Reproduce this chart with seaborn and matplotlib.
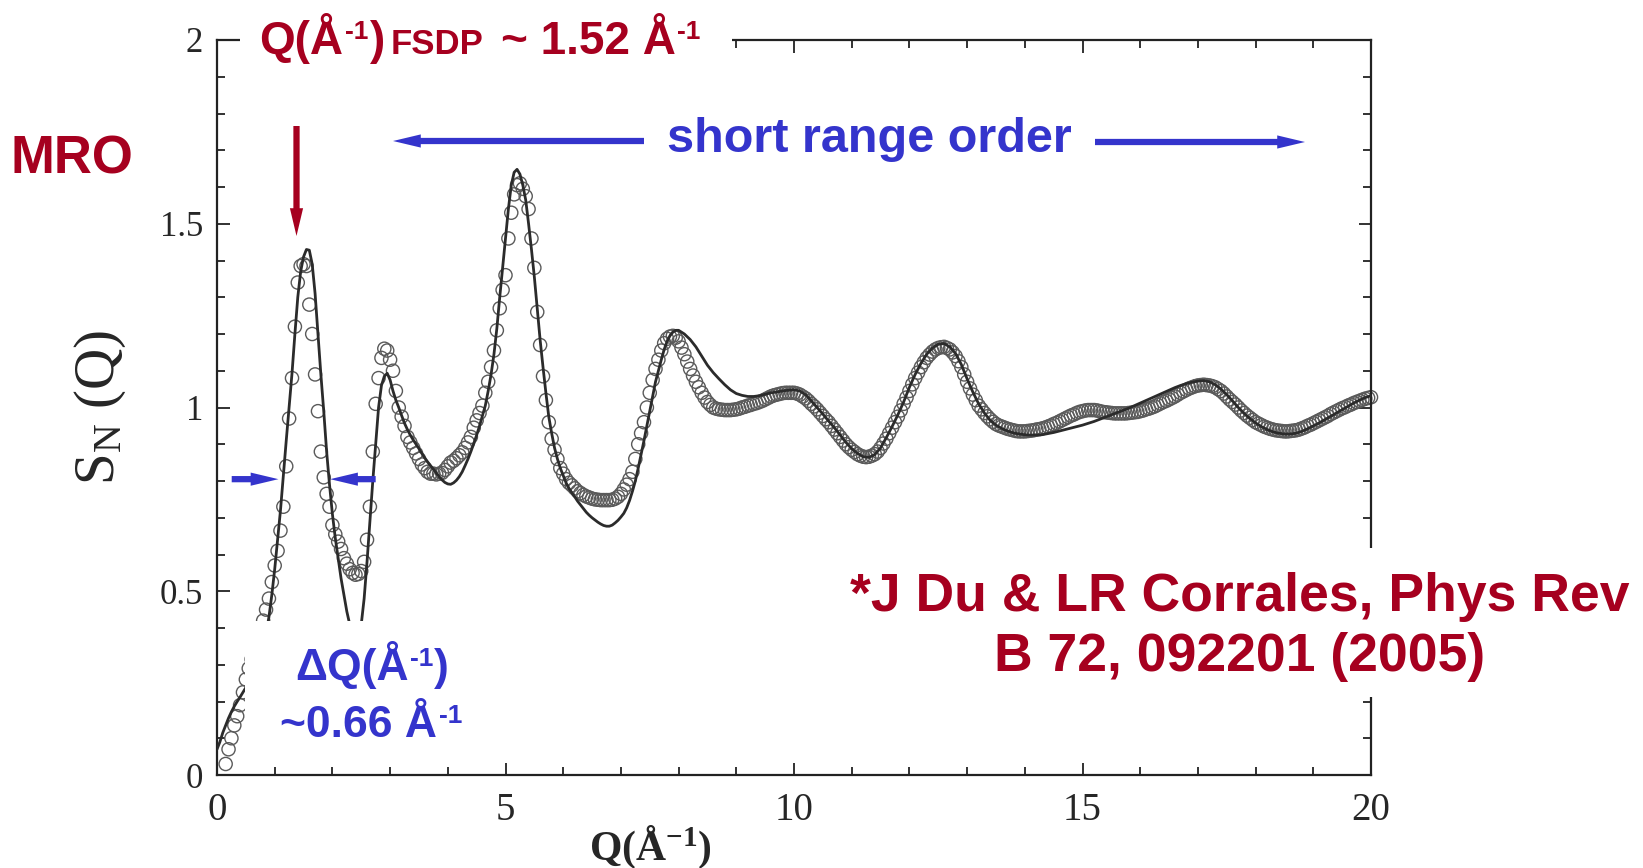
#!/usr/bin/env python3
# S_N(Q) of the glass: MD simulation (line) vs neutron data (circles)

import numpy as np
import pandas as pd
import matplotlib
matplotlib.use("Agg")
import matplotlib.pyplot as plt
import seaborn as sns
from matplotlib.patches import Rectangle
from matplotlib.ticker import MultipleLocator

# 1) Data
# simulation, fine grid 0.00 .. 8.00 (step 0.05)
sim_q_fine = np.round(np.arange(0.0, 8.0001, 0.05), 2)
sim_s_fine = [
    0.07, 0.09, 0.115, 0.135, 0.155, 0.172, 0.187, 0.20, 0.212, 0.225,
    0.238, 0.253, 0.27, 0.288, 0.305, 0.327, 0.35, 0.385, 0.43, 0.49,
    0.56, 0.64, 0.72, 0.815, 0.91, 1.0, 1.093, 1.20, 1.30, 1.37,
    1.41, 1.43, 1.428, 1.39, 1.31, 1.20, 1.09, 0.99, 0.88, 0.79,
    0.71, 0.645, 0.59, 0.535, 0.49, 0.445, 0.41, 0.38, 0.365, 0.375,
    0.41, 0.48, 0.58, 0.69, 0.80, 0.90, 1.0, 1.06, 1.085, 1.093,
    1.075, 1.045, 1.02, 1.0, 0.978, 0.957, 0.94, 0.925, 0.912, 0.9,
    0.888, 0.875, 0.863, 0.852, 0.842, 0.832, 0.822, 0.812, 0.803, 0.796,
    0.792, 0.791, 0.795, 0.802, 0.812, 0.825, 0.842, 0.86, 0.88, 0.902,
    0.925, 0.95, 0.977, 1.005, 1.045, 1.09, 1.145, 1.215, 1.30, 1.38,
    1.46, 1.54, 1.605, 1.64, 1.648, 1.635, 1.605, 1.565, 1.50, 1.43,
    1.355, 1.27, 1.184, 1.11, 1.04, 0.975, 0.93, 0.89, 0.86, 0.835,
    0.815, 0.795, 0.78, 0.768, 0.757, 0.745, 0.735, 0.725, 0.715, 0.707,
    0.70, 0.694, 0.688, 0.683, 0.679, 0.677, 0.677, 0.68, 0.686, 0.693,
    0.702, 0.712, 0.727, 0.747, 0.772, 0.80, 0.835, 0.872, 0.91, 0.95,
    0.99, 1.03, 1.07, 1.10, 1.13, 1.158, 1.18, 1.195, 1.205, 1.21,
    1.21,
]
# simulation, coarse grid 8.1 .. 20.0 (step 0.1)
sim_q_coarse = np.round(np.arange(8.1, 20.0001, 0.1), 1)
sim_s_coarse = [
    1.20, 1.185, 1.165, 1.14, 1.115, 1.095, 1.078, 1.062, 1.048,
    1.038, 1.033, 1.03, 1.03, 1.032, 1.036, 1.04, 1.042, 1.045, 1.047,
    1.048, 1.045, 1.035, 1.018, 1.0, 0.982, 0.963, 0.945, 0.925, 0.905,
    0.888, 0.875, 0.866, 0.864, 0.872, 0.89, 0.918, 0.948, 0.98, 1.015,
    1.055, 1.09, 1.12, 1.145, 1.162, 1.172, 1.174, 1.165, 1.147, 1.117,
    1.078, 1.042, 1.01, 0.985, 0.965, 0.952, 0.943, 0.936, 0.931, 0.928,
    0.926, 0.925, 0.925, 0.926, 0.929, 0.932, 0.936, 0.94, 0.944, 0.948,
    0.952, 0.957, 0.962, 0.968, 0.974, 0.98, 0.986, 0.992, 0.998, 1.005,
    1.012, 1.019, 1.026, 1.033, 1.04, 1.047, 1.054, 1.06, 1.065, 1.069,
    1.072, 1.073, 1.07, 1.062, 1.05, 1.035, 1.018, 1.0, 0.984, 0.97,
    0.958, 0.948, 0.94, 0.934, 0.93, 0.928, 0.928, 0.93, 0.935, 0.942,
    0.95, 0.958, 0.967, 0.976, 0.985, 0.994, 1.003, 1.012, 1.02, 1.027,
    1.032,
]

# experiment, 0.15 .. 8.00 (step 0.05)
exp_q_lo = np.round(np.arange(0.15, 8.0001, 0.05), 2)
exp_s_lo = [
    0.03, 0.07, 0.10, 0.135, 0.16, 0.19, 0.225, 0.26, 0.29, 0.315,
    0.34, 0.365, 0.39, 0.42, 0.45, 0.48, 0.525,
    0.57, 0.61, 0.665, 0.73, 0.84, 0.97, 1.08, 1.22, 1.34, 1.385,
    1.39, 1.385, 1.28, 1.20, 1.09, 0.99, 0.88, 0.81, 0.765, 0.73,
    0.68, 0.655, 0.635, 0.615, 0.59, 0.575, 0.56, 0.55, 0.545, 0.547,
    0.555, 0.58, 0.64, 0.73, 0.88, 1.01, 1.08, 1.135, 1.16, 1.155,
    1.13, 1.10, 1.045, 1.0, 0.975, 0.95, 0.92, 0.905, 0.89, 0.875,
    0.86, 0.845, 0.835, 0.825, 0.82, 0.82, 0.818, 0.82, 0.822, 0.83,
    0.84, 0.85, 0.855, 0.862, 0.87, 0.878, 0.89, 0.905, 0.92, 0.945,
    0.965, 0.985, 1.005, 1.04, 1.07, 1.11, 1.155, 1.21, 1.27, 1.32,
    1.36, 1.46, 1.53, 1.58, 1.605, 1.61, 1.595, 1.575, 1.54, 1.46,
    1.38, 1.26, 1.17, 1.085, 1.02, 0.96, 0.915, 0.885, 0.86, 0.835,
    0.82, 0.805, 0.795, 0.788, 0.78, 0.772, 0.767, 0.762, 0.758, 0.755,
    0.752, 0.75, 0.749, 0.748, 0.748, 0.748, 0.748, 0.749, 0.752, 0.757,
    0.765, 0.777, 0.79, 0.805, 0.825, 0.86, 0.9, 0.93, 0.96, 1.0,
    1.04, 1.075, 1.105, 1.13, 1.155, 1.175, 1.187, 1.193, 1.195, 1.19,
    1.18,
]
# experiment, 8.05 .. 20.00 (step 0.05)
exp_q_hi = np.round(np.arange(8.05, 20.0001, 0.05), 2)
exp_s_hi = [
    1.163, 1.145, 1.125, 1.105, 1.087, 1.07, 1.055, 1.04, 1.027, 1.015,
    1.007, 1.0, 0.997, 0.995, 0.994, 0.993, 0.993, 0.993, 0.994, 0.995,
    0.997, 1.0, 1.002, 1.005, 1.007, 1.01, 1.012, 1.015, 1.018, 1.022,
    1.026, 1.03, 1.033, 1.035, 1.037, 1.039, 1.04, 1.04, 1.04, 1.04,
    1.038, 1.035, 1.03, 1.025, 1.018, 1.01, 1.003, 0.995, 0.986, 0.977,
    0.968, 0.96, 0.95, 0.94, 0.93, 0.92, 0.91, 0.9, 0.892, 0.885,
    0.879, 0.873, 0.869, 0.866, 0.865, 0.866, 0.869, 0.873, 0.88, 0.89,
    0.902, 0.915, 0.93, 0.945, 0.96, 0.975, 0.992, 1.01, 1.027, 1.045,
    1.063, 1.08, 1.095, 1.11, 1.123, 1.135, 1.144, 1.152, 1.158, 1.162,
    1.164, 1.165, 1.162, 1.158, 1.15, 1.14, 1.126, 1.11, 1.09, 1.07,
    1.052, 1.035, 1.02, 1.005, 0.995, 0.985, 0.976, 0.968, 0.961, 0.955,
    0.951, 0.948, 0.945, 0.942, 0.94, 0.938, 0.936, 0.935, 0.935, 0.935,
    0.936, 0.937, 0.938, 0.94, 0.941, 0.943, 0.945, 0.948, 0.951, 0.955,
    0.958, 0.962, 0.966, 0.97, 0.974, 0.978, 0.981, 0.985, 0.988, 0.99,
    0.992, 0.993, 0.993, 0.993, 0.992, 0.99, 0.988, 0.987, 0.986, 0.985,
    0.984, 0.984, 0.984, 0.984, 0.984, 0.985, 0.986, 0.987, 0.988, 0.99,
    0.992, 0.995, 0.997, 1.0, 1.003, 1.007, 1.011, 1.015, 1.018, 1.022,
    1.026, 1.03, 1.035, 1.04, 1.044, 1.048, 1.052, 1.055, 1.058, 1.06,
    1.061, 1.062, 1.061, 1.06, 1.058, 1.055, 1.05, 1.045, 1.038, 1.03,
    1.022, 1.015, 1.008, 1.0, 0.992, 0.985, 0.978, 0.972, 0.966, 0.96,
    0.956, 0.952, 0.948, 0.945, 0.942, 0.94, 0.938, 0.937, 0.936, 0.935,
    0.935, 0.936, 0.937, 0.938, 0.94, 0.943, 0.946, 0.95, 0.953, 0.957,
    0.961, 0.965, 0.969, 0.973, 0.977, 0.982, 0.986, 0.99, 0.994, 0.998,
    1.001, 1.005, 1.008, 1.012, 1.015, 1.018, 1.021, 1.024, 1.026, 1.028,
]

x_ticks = [0, 5, 10, 15, 20]
x_tick_labels = ["0", "5", "10", "15", "20"]
y_ticks = [0, 0.5, 1, 1.5, 2]
y_tick_labels = ["0", "0.5", "1", "1.5", "2"]

sim = pd.DataFrame({"Q": np.concatenate([sim_q_fine, sim_q_coarse]),
                    "S": np.concatenate([sim_s_fine, sim_s_coarse])})
exp = pd.DataFrame({"Q": np.concatenate([exp_q_lo, exp_q_hi]),
                    "S": np.concatenate([exp_s_lo, exp_s_hi])})

RED = "#a6001f"
BLUE = "#3434cc"
W, H = 1643, 868

# 2) Style
sns.set_theme(style="ticks")
plt.rcParams["font.family"] = ["Liberation Serif", "DejaVu Serif"]
plt.rcParams["mathtext.fontset"] = "custom"
plt.rcParams["mathtext.rm"] = "Liberation Serif"
plt.rcParams["mathtext.it"] = "Liberation Serif:italic"
plt.rcParams["mathtext.bf"] = "Liberation Serif:bold"
plt.rcParams["mathtext.sf"] = "Liberation Serif:bold"

fig = plt.figure(figsize=(W / 100, H / 100), dpi=100)
ax = fig.add_axes([217 / W, 1 - 775 / H, 1154 / W, 735 / H])


def fx(px):
    return px / W


def fy(py):
    return 1 - py / H


# 3) Curves
sns.scatterplot(data=exp, x="Q", y="S", ax=ax, marker="o", s=90,
                facecolors="none", edgecolor="#5a5a5a", linewidth=1.0,
                clip_on=False, zorder=2, legend=False)
sns.lineplot(data=sim, x="Q", y="S", ax=ax, color="#2b2b2b", linewidth=2.0,
             estimator=None, sort=False, zorder=3, legend=False)

ax.set_xlim(0, 20)
ax.set_ylim(0, 2)
ax.set_xticks(x_ticks, x_tick_labels)
ax.set_yticks(y_ticks, y_tick_labels)
ax.xaxis.set_minor_locator(MultipleLocator(1))
ax.yaxis.set_minor_locator(MultipleLocator(0.1))
ax.tick_params(which="both", direction="in", top=True, right=True,
               width=1.3, color="#222222")
ax.tick_params(which="major", length=9)
ax.tick_params(which="minor", length=5.5)
ax.tick_params(axis="x", labelsize=28, pad=12)
ax.tick_params(axis="y", labelsize=25, pad=10)
for sp in ax.spines.values():
    sp.set_linewidth(1.6)
    sp.set_color("#222222")

ax.set_xlabel(r"Q(Å$^{\mathbf{-1}}$)", fontsize=30, fontweight="bold")
ax.xaxis.label.set(va="baseline", ha="center")
ax.xaxis.set_label_coords((650 - 217) / 1154, (775 - 860) / 735)
ax.set_ylabel(r"S$_{\mathrm{N}}$ (Q)", fontsize=41)
ax.yaxis.label.set(va="center", ha="center", rotation_mode="default")
ax.yaxis.set_label_coords((100 - 217) / 1154, 0.5)

# 4) White masks behind annotations
for (x0, y0, x1, y1) in [(240, 15, 732, 66), (245, 621, 480, 755),
                         (840, 548, 1643, 697)]:
    fig.add_artist(Rectangle((fx(x0), fy(y1)), fx(x1) - fx(x0),
                             fy(y0) - fy(y1), transform=fig.transFigure,
                             facecolor="white", edgecolor="none", zorder=5))

sans = dict(family="Liberation Sans", fontweight="bold", zorder=6,
            va="baseline")


def label(px, py, s, color, size, **kw):
    fig.text(fx(px), fy(py), s, color=color, fontsize=size, **sans, **kw)


label(10, 173, "MRO", RED, 38)
# Q(Å^-1)FSDP ~ 1.52 Å^-1, built piece by piece
label(259, 54, "Q(Å", RED, 33)
label(345, 39, "-1", RED, 19)
label(370, 54, ")", RED, 33)
label(391, 54, "FSDP", RED, 25)
label(501, 54, "~ 1.52 Å", RED, 33)
label(677, 39, "-1", RED, 19)

label(667, 152, "short range order", BLUE, 35)

# ΔQ(Å^-1) / ~0.66 Å^-1
label(295, 680, "ΔQ(Å", BLUE, 32)
label(410, 666, "-1", BLUE, 19)
label(434, 680, ")", BLUE, 32)
label(280, 737, "~0.66 Å", BLUE, 32)
label(439, 723, "-1", BLUE, 19)

label(1240, 611, "*J Du & LR Corrales, Phys Rev", RED, 38.5, ha="center")
label(1240, 671, "B 72, 092201 (2005)", RED, 38.5, ha="center")

# 5) Arrows
arrow = "simple,head_length=2.0,head_width=0.95,tail_width=0.45"


def fig_arrow(x0, y0, x1, y1, color):
    ax.annotate("", xy=(fx(x1), fy(y1)), xycoords="figure fraction",
                xytext=(fx(x0), fy(y0)), textcoords="figure fraction",
                arrowprops=dict(arrowstyle=arrow, mutation_scale=10,
                                fc=color, ec="none", lw=0,
                                shrinkA=0, shrinkB=0),
                annotation_clip=False, zorder=6)


fig_arrow(296.5, 126, 296.5, 236, RED)
fig_arrow(644, 141, 393, 141, BLUE)
fig_arrow(1095, 142, 1305, 142, BLUE)

for (q0, q1) in [(0.255, 1.065), (2.75, 1.96)]:
    ax.annotate("", xy=(q1, 0.805), xytext=(q0, 0.805),
                arrowprops=dict(arrowstyle=arrow, mutation_scale=10,
                                fc=BLUE, ec="none", lw=0,
                                shrinkA=0, shrinkB=0),
                zorder=6)

fig.savefig("out.png", dpi=100, facecolor="white")
